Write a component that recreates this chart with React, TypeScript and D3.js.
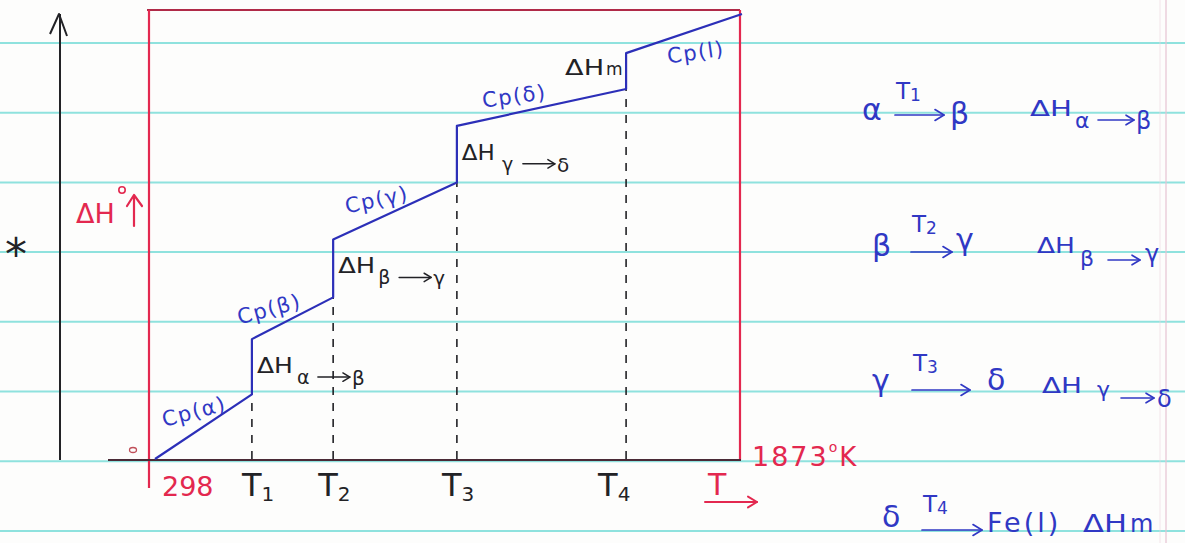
import React from "react";
import * as d3 from "d3";

const WIDTH = 1185;
const HEIGHT = 543;

// Heating path of iron from 298 K to 1873 K (schematic temperature positions, K)
const T_START = 298;
const T_END = 1873;
const transitionTemps = [558, 776, 1108, 1562];
const transitionLabels = ["1", "2", "3", "4"];

// Phases in order of heating
const phases = ["α", "β", "γ", "δ", "l"];
// Relative enthalpy at the start and the end of each single-phase heating segment
const hSegStart = [0, 26.7, 48.9, 74.2, 90.4];
const hSegEnd = [14.4, 36, 61.6, 82.4, 99.1];

// Transformations listed beside the graph
const reactFrom = ["α", "β", "γ", "δ"];
const reactTo = ["β", "γ", "δ", "Fe(l)"];

const FONT = "'DejaVu Sans', 'Noto Sans', sans-serif";
const BLUE = "#2c2fb8";
const BLUE_TXT = "#3038c4";
const RED = "#e3284f";
const INK = "#222226";
const RULE = "#8fe2de";

// ----- layout -----
const RULE_Y0 = 43;
const RULE_STEP = 69.7;
const cpLabelOffset = [
  [-9, -14, -15],
  [-23, -8, -15],
  [-18, -10, -12],
  [-27, -10, -8],
  [12, 20, -8],
];
const tickLabelDx = [-10, -15, -15, -28];
const stepDhWidth = [36, 37, 33];
const rows = [
  { y: 120, tY: 99, a1: 895, a2: 944, aY: 115, fromX: 862, toX: 950, toY: 124, dhX: 1030, dhY: 116, dhW: 42, subX: 1075, subY: 128, s1: 1098, s2: 1134, sY: 120, sToX: 1136, sToY: 129 },
  { y: 256, tY: 232, a1: 911, a2: 952, aY: 252, fromX: 872, toX: 956, toY: 250, dhX: 1037, dhY: 253, dhW: 38, subX: 1080, subY: 266, s1: 1108, s2: 1140, sY: 260, sToX: 1145, sToY: 262 },
  { y: 391, tY: 371, a1: 912, a2: 970, aY: 390, fromX: 872, toX: 987, toY: 390, dhX: 1042, dhY: 393, dhW: 40, subX: 1097, subY: 397, s1: 1121, s2: 1154, sY: 398, sToX: 1157, sToY: 407 },
  { y: 527, tY: 512, a1: 922, a2: 982, aY: 530, fromX: 882, toX: 987, toY: 532, dhX: 1083, dhY: 532, dhW: 44, subX: 0, subY: 0, s1: 0, s2: 0, sY: 0, sToX: 0, sToY: 0 },
];

const Arrow = ({ x1, x2, y, color, sw = 1.6, head = 8 }: any) => (
  <g stroke={color} strokeWidth={sw} fill="none" strokeLinecap="round" strokeLinejoin="round">
    <line x1={x1} y1={y} x2={x2} y2={y} />
    <path d={`M${x2 - head},${y - head * 0.6} L${x2},${y} L${x2 - head},${y + head * 0.6}`} />
  </g>
);

export default function App() {
  const x = d3.scaleLinear().domain([T_START, T_END]).range([155, 742]);
  const y = d3.scaleLinear().domain([0, 100]).range([459, 10]);

  const bounds = [T_START, ...transitionTemps, T_END];
  const pts: [number, number][] = [];
  phases.forEach((_, i) => {
    pts.push([bounds[i], hSegStart[i]]);
    pts.push([bounds[i + 1], hSegEnd[i]]);
  });
  const line = d3
    .line<[number, number]>()
    .x((d) => x(d[0]))
    .y((d) => y(d[1]));

  const boxL = x(T_START) - 6;
  const boxR = x(T_END) - 2;
  const boxT = y(100);
  const boxB = y(0) + 1;

  const rules = d3.range(8).map((i) => RULE_Y0 + i * RULE_STEP);

  return (
    <svg
      width={WIDTH}
      height={HEIGHT}
      style={{ position: "absolute", left: 0, top: 0, background: "#fdfdfc" }}
      fontFamily={FONT}
    >
      {/* ruled notebook paper */}
      {rules.map((ry, i) => (
        <line key={i} x1={0} x2={WIDTH} y1={ry} y2={ry} stroke={RULE} strokeWidth={2} />
      ))}
      <line x1={1166} x2={1166} y1={0} y2={HEIGHT} stroke="#e6c3d3" strokeWidth={1.5} opacity={0.8} />
      <line x1={1160} x2={1160} y1={0} y2={HEIGHT} stroke="#eed6e0" strokeWidth={1} opacity={0.6} />

      {/* free-hand enthalpy axis */}
      <line x1={60} x2={60} y1={14} y2={460} stroke={INK} strokeWidth={2} />
      <path d="M50,34 L59,14 L67,36" stroke={INK} strokeWidth={2} fill="none" strokeLinejoin="round" />
      <text x={5} y={270} fontSize={44} fill={INK}>*</text>

      {/* red frame */}
      <line x1={boxL - 2} x2={boxR} y1={boxT} y2={boxT} stroke="#b02a48" strokeWidth={2.2} />
      <line x1={boxL} x2={boxL} y1={boxT} y2={488} stroke={RED} strokeWidth={2.2} />
      <line x1={boxR} x2={boxR} y1={boxT} y2={boxB} stroke={RED} strokeWidth={2.2} />
      <line x1={108} x2={boxR + 1} y1={boxB} y2={boxB} stroke="#4a2a36" strokeWidth={2.2} />
      <ellipse cx={133} cy={450} rx={3.5} ry={2.5} fill="none" stroke="#c0505a" strokeWidth={1.3} />

      {/* transition temperatures */}
      {transitionTemps.map((t, i) => (
        <line
          key={i}
          x1={x(t)}
          x2={x(t)}
          y1={y(0)}
          y2={y(hSegEnd[i])}
          stroke={INK}
          strokeWidth={1.6}
          strokeDasharray="8,8"
        />
      ))}
      {transitionTemps.map((t, i) => (
        <text key={i} x={x(t) + tickLabelDx[i]} y={496} fontSize={32} fill={INK}>
          T<tspan fontSize={20} dy={5}>{transitionLabels[i]}</tspan>
        </text>
      ))}

      {/* enthalpy path */}
      <path d={line(pts) || ""} fill="none" stroke={BLUE} strokeWidth={2.2} strokeLinejoin="round" />

      {/* heat-capacity labels */}
      {phases.map((p, i) => {
        const mx = (x(bounds[i]) + x(bounds[i + 1])) / 2 + cpLabelOffset[i][0];
        const my = (y(hSegStart[i]) + y(hSegEnd[i])) / 2 + cpLabelOffset[i][1];
        return (
          <text
            key={p}
            x={mx}
            y={my}
            fontSize={21}
            fill={BLUE_TXT}
            textAnchor="middle"
            dominantBaseline="middle"
            letterSpacing={1.5}
            transform={`rotate(${cpLabelOffset[i][2]},${mx},${my})`}
          >
            Cp({p})
          </text>
        );
      })}

      {/* transformation enthalpies on the steps */}
      {transitionTemps.slice(0, 3).map((t, i) => {
        const x0 = x(t);
        const base = y(hSegStart[i + 1]) + 34;
        return (
          <g key={i} fill={INK}>
            <text x={x0 + 5} y={base} fontSize={21} textLength={stepDhWidth[i]} lengthAdjust="spacingAndGlyphs">ΔH</text>
            <text x={x0 + 45} y={base + 11} fontSize={19}>{reactFrom[i]}</text>
            <Arrow x1={x0 + 66} x2={x0 + 98} y={base + 4} color={INK} sw={1.5} head={7} />
            <text x={x0 + 100} y={base + 12} fontSize={20}>{reactTo[i]}</text>
          </g>
        );
      })}
      <text x={x(transitionTemps[3]) - 61} y={75} fontSize={21} fill={INK} textLength={39} lengthAdjust="spacingAndGlyphs">
        ΔH
      </text>
      <text x={x(transitionTemps[3]) - 20} y={75} fontSize={17} fill={INK}>m</text>

      {/* axis captions */}
      <text x={76} y={223} fontSize={27} fill={RED}>ΔH</text>
      <circle cx={122} cy={190} r={3.2} fill="none" stroke={RED} strokeWidth={1.6} />
      <g stroke={RED} strokeWidth={2.2} fill="none" strokeLinecap="round" strokeLinejoin="round">
        <line x1={134} x2={134} y1={226} y2={196} />
        <path d="M127,206 L134,195 L142,206" />
      </g>
      <text x={162} y={496} fontSize={27} fill={RED}>{T_START}</text>
      <text x={752} y={466} fontSize={27} fill={RED} letterSpacing={2}>
        {T_END}
        <tspan fontSize={14} dy={-14}>o</tspan>
        <tspan fontSize={26} dy={14}>K</tspan>
      </text>
      <text x={708} y={495} fontSize={30} fill={RED}>T</text>
      <Arrow x1={705} x2={757} y={502} color={RED} sw={2} head={9} />

      {/* transformation list */}
      {rows.map((r, i) => (
        <g key={i} fill={BLUE_TXT}>
          <text x={r.fromX} y={r.y} fontSize={30}>{reactFrom[i]}</text>
          <text x={r.a1 + 1} y={r.tY} fontSize={23}>
            T<tspan fontSize={17} dy={2}>{transitionLabels[i]}</tspan>
          </text>
          <Arrow x1={r.a1} x2={r.a2} y={r.aY} color={BLUE_TXT} sw={1.7} head={9} />
          {i < 3 ? (
            <text x={r.toX} y={r.toY} fontSize={30}>{reactTo[i]}</text>
          ) : (
            <text x={r.toX} y={r.toY} fontSize={27} letterSpacing={3}>{reactTo[i]}</text>
          )}
          {i < 3 ? (
            <g>
              <text x={r.dhX} y={r.dhY} fontSize={22} textLength={r.dhW} lengthAdjust="spacingAndGlyphs">ΔH</text>
              <text x={r.subX} y={r.subY} fontSize={22}>{reactFrom[i]}</text>
              <Arrow x1={r.s1} x2={r.s2} y={r.sY} color={BLUE_TXT} sw={1.6} head={8} />
              <text x={r.sToX} y={r.sToY} fontSize={24}>{reactTo[i]}</text>
            </g>
          ) : (
            <g>
              <text x={r.dhX} y={r.dhY} fontSize={24} textLength={r.dhW} lengthAdjust="spacingAndGlyphs">ΔH</text>
              <text x={r.dhX + r.dhW + 3} y={r.dhY} fontSize={24}>m</text>
            </g>
          )}
        </g>
      ))}
    </svg>
  );
}
